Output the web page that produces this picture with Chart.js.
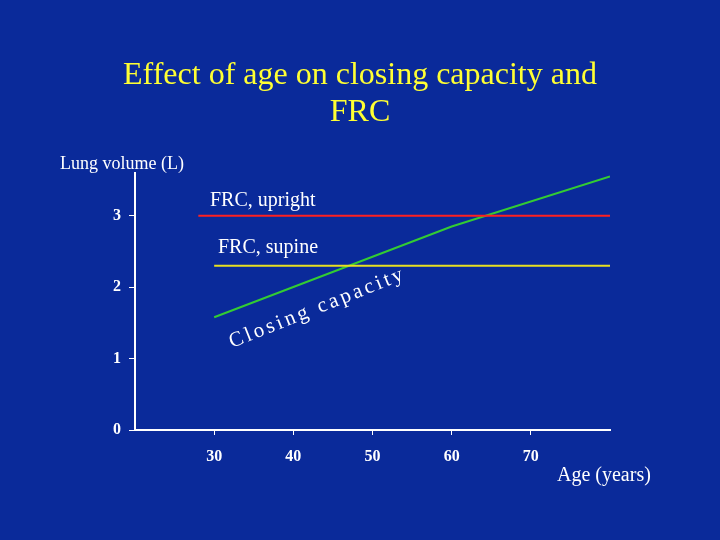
<!DOCTYPE html>
<html>
<head>
<script src="https://cdn.jsdelivr.net/npm/chart.js@4/dist/chart.umd.min.js"></script>
<style>
  html, body { margin: 0; padding: 0; background: #0a2a9a; }
  #wrap { width: 720px; height: 540px; }
</style>
</head>
<body>
<div id="wrap"><canvas id="c" width="720" height="540"></canvas></div>
<script>
// data
var xTicks = [30, 40, 50, 60, 70];
var yTicks = [0, 1, 2, 3];
var closingAge = [30, 60, 80];
var closingVol = [1.58, 2.85, 3.55];
var uprightAge = [28, 80];
var uprightVol = [3.0, 3.0];
var supineAge = [30, 80];
var supineVol = [2.3, 2.3];

function pts(xs, ys) {
  return xs.map(function (x, i) { return { x: x, y: ys[i] }; });
}

var serif = '"Liberation Serif", "DejaVu Serif", serif';

// titles and free text
var textPlugin = {
  id: 'texts',
  afterDraw: function (chart) {
    var ctx = chart.ctx;
    ctx.save();
    ctx.fillStyle = '#ffff33';
    ctx.font = '32px ' + serif;
    ctx.textAlign = 'center';
    ctx.textBaseline = 'middle';
    ctx.fillText('Effect of age on closing capacity and', 360, 76);
    ctx.fillText('FRC', 360, 113);

    ctx.fillStyle = '#ffffff';
    ctx.font = '18px ' + serif;
    ctx.textAlign = 'left';
    ctx.fillText('Lung volume (L)', 60, 164);
    ctx.font = '20px ' + serif;
    ctx.fillText('FRC, upright', 210, 201);
    ctx.fillText('FRC, supine', 218, 248);
    ctx.fillText('Age (years)', 557, 476);

    // label along closing capacity line
    ctx.font = '21px ' + serif;
    ctx.letterSpacing = '3px';
    ctx.translate(230, 343);
    ctx.rotate(-0.38);
    ctx.fillText('Closing capacity', 0, 0);
    ctx.restore();
  }
};

new Chart(document.getElementById('c'), {
  type: 'line',
  data: {
    datasets: [{
      data: pts(uprightAge, uprightVol),
      borderColor: '#ff2020', borderWidth: 2, pointRadius: 0
    }, {
      data: pts(supineAge, supineVol),
      borderColor: '#e8e020', borderWidth: 2, pointRadius: 0
    }, {
      data: pts(closingAge, closingVol),
      borderColor: '#33cc33', borderWidth: 2, pointRadius: 0
    }]
  },
  options: {
    responsive: false,
    animation: false,
    layout: { padding: { top: 173, right: 110, left: 0, bottom: 0 } },
    plugins: { legend: { display: false }, tooltip: { enabled: false } },
    scales: {
      x: {
        type: 'linear', min: 20, max: 80,
        afterBuildTicks: function (s) { s.ticks = xTicks.map(function (v) { return { value: v }; }); },
        afterFit: function (s) { s.height = 110; },
        border: { color: '#ffffff', width: 2 },
        grid: { drawOnChartArea: false, color: '#ffffff', tickLength: 5 },
        ticks: { color: '#ffffff', padding: 12, font: { family: serif, size: 16, weight: 'bold' } }
      },
      y: {
        min: 0, max: 3.6,
        afterBuildTicks: function (s) { s.ticks = yTicks.map(function (v) { return { value: v }; }); },
        afterFit: function (s) { s.width = 135; },
        border: { color: '#ffffff', width: 2 },
        grid: { drawOnChartArea: false, color: '#ffffff', tickLength: 6 },
        ticks: { color: '#ffffff', padding: 8, font: { family: serif, size: 16, weight: 'bold' } }
      }
    }
  },
  plugins: [textPlugin]
});
</script>
</body>
</html>
